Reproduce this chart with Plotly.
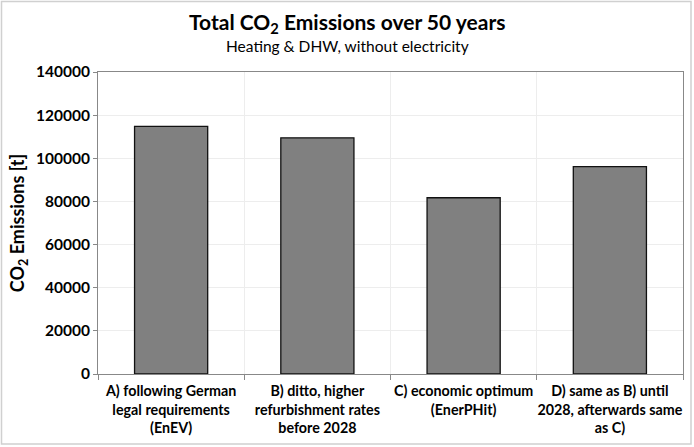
import plotly.graph_objects as go

categories = [
    "A) following German<br>legal requirements<br>(EnEV)",
    "B) ditto, higher<br>refurbishment rates<br>before 2028",
    "C) economic optimum<br>(EnerPHit)",
    "D) same as B) until<br>2028, afterwards same<br>as C)",
]
emissions = [114800, 109500, 81700, 96100]
y_ticks = [0, 20000, 40000, 60000, 80000, 100000, 120000, 140000]

W, H = 694, 447
L, R, T, B = 98, 11, 72, 73
pw = W - L - R
ph = H - T - B

fig = go.Figure(
    go.Bar(
        x=categories,
        y=emissions,
        width=0.5,
        marker=dict(color="#808080", line=dict(color="#111111", width=1.3)),
    )
)

font = "Lato, 'Open Sans', sans-serif"

fig.update_layout(
    width=W,
    height=H,
    margin=dict(l=L, r=R, t=T, b=B),
    paper_bgcolor="white",
    plot_bgcolor="white",
    showlegend=False,
    font=dict(family=font, color="black"),
    bargap=0.5,
)

fig.update_xaxes(
    type="category",
    tickson="boundaries",
    ticks="outside",
    ticklen=5,
    tickcolor="#888888",
    tickangle=0,
    ticklabelstandoff=4,
    showgrid=True,
    gridcolor="#ededed",
    gridwidth=1,
    showline=True,
    linecolor="#888888",
    linewidth=1,
    mirror=True,
    automargin=False,
    tickfont=dict(size=14.3, family=font, color="black", weight="bold"),
)

fig.update_yaxes(
    range=[0, 140000],
    tickvals=y_ticks,
    ticktext=[str(v) for v in y_ticks],
    ticks="outside",
    ticklen=4,
    tickcolor="#888888",
    showgrid=True,
    gridcolor="#ededed",
    gridwidth=1,
    showline=True,
    linecolor="#888888",
    linewidth=1,
    mirror=True,
    zeroline=False,
    automargin=False,
    tickfont=dict(size=15.5, family=font, color="black", weight="bold"),
    title=dict(
        text="CO<sub>2</sub> Emissions [t]",
        font=dict(size=18, family=font, color="black", weight="bold"),
        standoff=6,
    ),
)

fig.add_annotation(
    text="<b>Total CO<sub>2</sub> Emissions over 50 years</b>",
    xref="paper", yref="paper",
    x=(347 - L) / pw, y=(H - 23 - B) / ph,
    xanchor="center", yanchor="middle",
    showarrow=False,
    font=dict(size=21, family=font, color="black"),
)
fig.add_annotation(
    text="Heating &amp; DHW, without electricity",
    xref="paper", yref="paper",
    x=(347 - L) / pw, y=(H - 46 - B) / ph,
    xanchor="center", yanchor="middle",
    showarrow=False,
    font=dict(size=15.5, family=font, color="black"),
)

fig.add_shape(
    type="rect",
    xref="paper", yref="paper",
    x0=(1.5 - L) / pw, x1=(691 - L) / pw,
    y0=(H - 444 - B) / ph, y1=(H - 1.5 - B) / ph,
    line=dict(color="#d0d0d0", width=1.5),
    fillcolor="rgba(0,0,0,0)",
    layer="above",
)

fig.write_html(
    "out.html",
    config={"displayModeBar": False},
    post_script="document.body.style.margin='0';document.body.style.overflow='hidden';",
)
